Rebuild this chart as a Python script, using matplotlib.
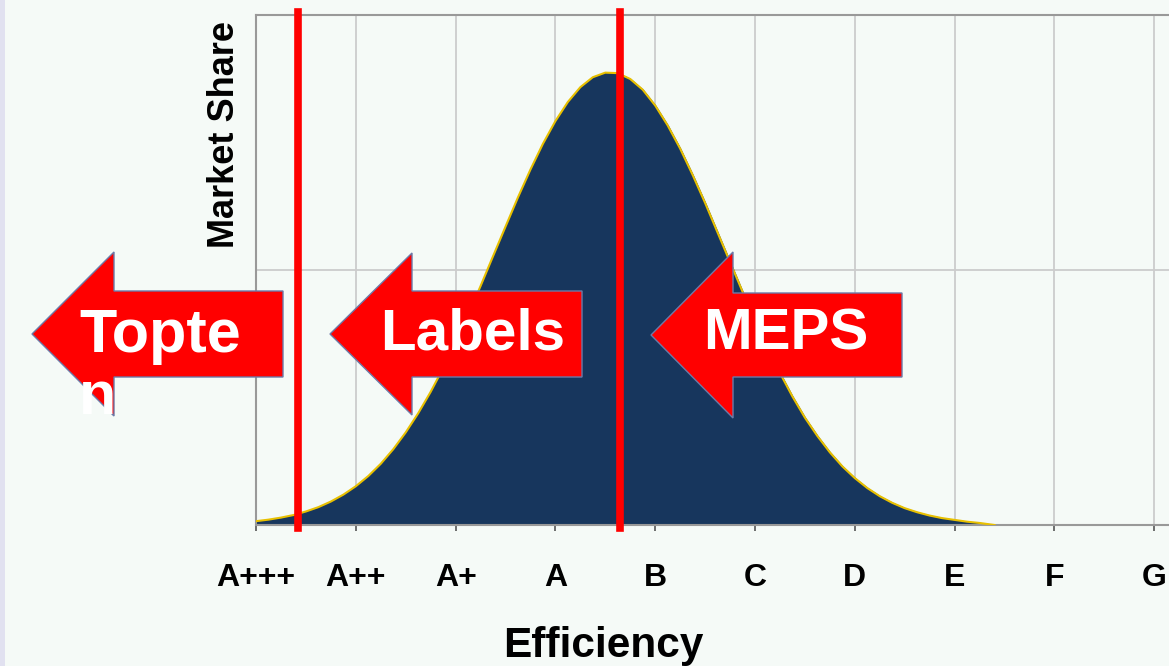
import matplotlib
matplotlib.use("Agg")
import matplotlib.pyplot as plt
from matplotlib.patches import Polygon, Rectangle

plt.rcParams['font.family'] = ['Liberation Sans', 'DejaVu Sans']

# efficiency classes on the x axis
classes = ['A+++', 'A++', 'A+', 'A', 'B', 'C', 'D', 'E', 'F', 'G']

# market share curve (x in class units, y in grid units)
curve_x = [0.0, 0.125, 0.25, 0.375, 0.5, 0.625, 0.75, 0.875, 1.0, 1.125, 1.25,
           1.375, 1.5, 1.625, 1.75, 1.875, 2.0, 2.125, 2.25, 2.375, 2.5, 2.625,
           2.75, 2.875, 3.0, 3.125, 3.25, 3.375, 3.5, 3.625, 3.75, 3.875, 4.0,
           4.125, 4.25, 4.375, 4.5, 4.625, 4.75, 4.875, 5.0, 5.125, 5.25, 5.375,
           5.5, 5.625, 5.75, 5.875, 6.0, 6.125, 6.25, 6.375, 6.5, 6.625, 6.75,
           6.875, 7.0, 7.125, 7.25, 7.4]
curve_y = [0.015, 0.021, 0.029, 0.039, 0.053, 0.070, 0.092, 0.119, 0.152, 0.192,
           0.240, 0.297, 0.363, 0.438, 0.522, 0.615, 0.716, 0.824, 0.937, 1.054,
           1.170, 1.285, 1.394, 1.495, 1.584, 1.659, 1.717, 1.756, 1.774, 1.772,
           1.749, 1.707, 1.645, 1.567, 1.476, 1.373, 1.263, 1.147, 1.031, 0.915,
           0.802, 0.695, 0.596, 0.504, 0.421, 0.349, 0.285, 0.230, 0.184, 0.145,
           0.113, 0.087, 0.066, 0.050, 0.037, 0.027, 0.020, 0.013, 0.008, 0.0]

# red threshold lines
thresholds = [0.42, 3.65]

# arrow captions
arrow_labels = ['Topte', 'Labels', 'MEPS']
wrapped_tail = 'n'

W, H = 1169, 666
fig = plt.figure(figsize=(W / 100, H / 100), dpi=100)
fig.patch.set_facecolor('#f5faf7')
fig.add_artist(Rectangle((0, 0), 5 / W, 1, transform=fig.transFigure,
                         facecolor='#e1e1f0', edgecolor='none'))

ax = fig.add_axes([256 / W, 1 - 525 / H, (W - 256) / W, 510 / H])
ax.set_facecolor('#f5faf7')
ax.set_xlim(0, (W - 256) / 99.8)
ax.set_ylim(0, 2)

ax.set_xticks(range(len(classes)))
ax.set_xticklabels(classes, fontsize=23, fontweight='bold')
ax.set_yticks([0, 1, 2])
ax.tick_params(axis='y', length=0, labelleft=False)
ax.tick_params(axis='x', length=4, width=1.2, color='#555555', pad=23)
ax.grid(True, color='#cccccc', lw=1.3)
ax.set_axisbelow(True)
for s in ['top', 'left', 'bottom']:
    ax.spines[s].set_color('#999999')
    ax.spines[s].set_linewidth(1.5)
ax.spines['right'].set_visible(False)

ax.fill_between(curve_x, curve_y, color='#17365d', zorder=2)
ax.plot(curve_x, curve_y, color='#e8c000', lw=1.5, zorder=3)

for t in thresholds:
    ax.axvline(t, ymin=-0.006, ymax=1.006, color='#ff0000', lw=5.5,
               zorder=4, clip_on=False)

fig.text(224 / W, 1 - 134 / H, 'Market Share', rotation=90, fontsize=26,
         fontweight='bold', ha='center', va='center')
fig.text(603 / W, 1 - 657 / H, 'Efficiency', fontsize=30.5,
         fontweight='bold', ha='center', va='baseline')


def arrow(tip, back, right, cy, half_head, half_body):
    pts = [(tip, cy), (back, cy + half_head), (back, cy + half_body),
           (right, cy + half_body), (right, cy - half_body),
           (back, cy - half_body), (back, cy - half_head)]
    pts = [(x / W, 1 - y / H) for x, y in pts]
    p = Polygon(pts, closed=True, transform=fig.transFigure, facecolor='#ff0000',
                edgecolor='#6c7aa8', lw=1.0, zorder=5)
    fig.add_artist(p)
    return p


a1 = arrow(32, 114, 283, 334, 82, 43)
a2 = arrow(330, 412, 582, 334, 81, 43)
a3 = arrow(651, 733, 902, 335, 83, 42)

kw = dict(fontweight='bold', color='white', va='baseline', zorder=6)
t1 = fig.text(79 / W, 1 - 352 / H, arrow_labels[0], ha='left', fontsize=44, **kw)
t1.set_clip_path(a1)
t1b = fig.text(79 / W, 1 - 414 / H, wrapped_tail, ha='left', fontsize=44, **kw)
t1b.set_clip_path(a1)
fig.text(473 / W, 1 - 350 / H, arrow_labels[1], ha='center', fontsize=42, **kw)
fig.text(786 / W, 1 - 350 / H, arrow_labels[2], ha='center', fontsize=42, **kw)

fig.savefig('out.png', dpi=100, facecolor=fig.get_facecolor())
